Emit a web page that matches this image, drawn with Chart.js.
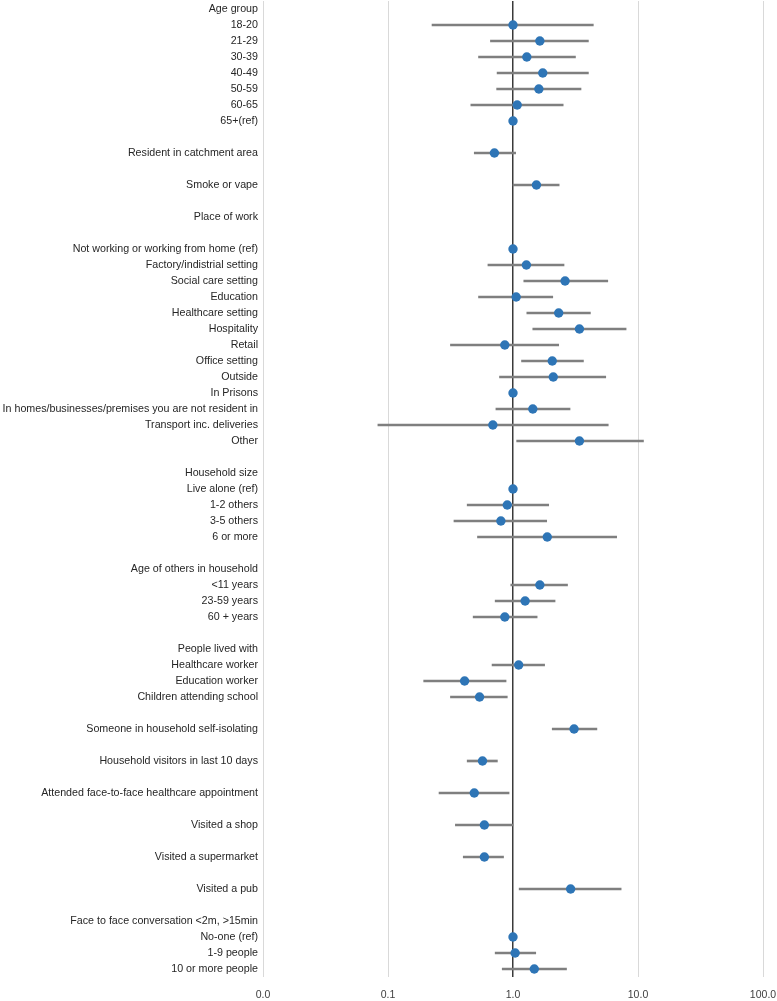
<!DOCTYPE html>
<html>
<head>
<meta charset="utf-8">
<script src="https://cdn.jsdelivr.net/npm/chart.js@4.4.1/dist/chart.umd.min.js"></script>
<style>
  html, body { margin: 0; padding: 0; background: #ffffff; }
  #wrap { width: 777px; height: 1001px; position: relative; }
</style>
</head>
<body>
<div id="wrap"><canvas id="c" width="777" height="1001"></canvas></div>
<script>
const categories = [
  "Age group", "18-20", "21-29", "30-39", "40-49", "50-59", "60-65", "65+(ref)",
  "", "Resident in catchment area", "", "Smoke or vape", "", "Place of work", "",
  "Not working or working from home (ref)", "Factory/indistrial setting", "Social care setting",
  "Education", "Healthcare setting", "Hospitality", "Retail", "Office setting", "Outside",
  "In Prisons", "In homes/businesses/premises you are not resident in",
  "Transport inc. deliveries", "Other", "",
  "Household size", "Live alone (ref)", "1-2 others", "3-5 others", "6 or more", "",
  "Age of others in household", "<11 years", "23-59 years", "60 + years", "",
  "People lived with", "Healthcare worker", "Education worker", "Children attending school", "",
  "Someone in household self-isolating", "", "Household visitors in last 10 days", "",
  "Attended face-to-face healthcare appointment", "", "Visited a shop", "",
  "Visited a supermarket", "", "Visited a pub", "",
  "Face to face conversation <2m, >15min", "No-one (ref)", "1-9 people", "10 or more people"
];

const oddsRatio = [
  null, 1.00, 1.64, 1.29, 1.73, 1.61, 1.08, 1.00,
  null, 0.71, null, 1.54, null, null, null,
  1.00, 1.28, 2.61,
  1.06, 2.32, 3.40, 0.86, 2.06, 2.10,
  1.00, 1.44,
  0.69, 3.40, null,
  null, 1.00, 0.90, 0.80, 1.88, null,
  null, 1.64, 1.25, 0.86, null,
  null, 1.11, 0.41, 0.54, null,
  3.08, null, 0.57, null,
  0.49, null, 0.59, null,
  0.59, null, 2.89, null,
  null, 1.00, 1.04, 1.48
];

const ciLower = [
  null, 0.225, 0.66, 0.53, 0.746, 0.74, 0.46, null,
  null, 0.49, null, 1.00, null, null, null,
  null, 0.63, 1.22,
  0.53, 1.29, 1.44, 0.316, 1.17, 0.78,
  null, 0.73,
  0.083, 1.07, null,
  null, null, 0.43, 0.337, 0.52, null,
  null, 0.96, 0.72, 0.48, null,
  null, 0.68, 0.193, 0.316, null,
  2.06, null, 0.43, null,
  0.256, null, 0.346, null,
  0.40, null, 1.12, null,
  null, null, 0.72, 0.82
];

const ciUpper = [
  null, 4.39, 4.01, 3.16, 4.01, 3.50, 2.52, null,
  null, 1.05, null, 2.34, null, null, null,
  null, 2.56, 5.73,
  2.08, 4.16, 8.03, 2.32, 3.66, 5.52,
  null, 2.86,
  5.78, 11.06, null,
  null, null, 1.93, 1.86, 6.75, null,
  null, 2.73, 2.17, 1.56, null,
  null, 1.79, 0.88, 0.90, null,
  4.69, null, 0.75, null,
  0.93, null, 1.00, null,
  0.84, null, 7.33, null,
  null, null, 1.52, 2.68
];

const xTicks = [0.01, 0.1, 1, 10, 100];

const ciRanges = ciLower.map((lo, i) => (lo === null || ciUpper[i] === null) ? null : [lo, ciUpper[i]]);

const labelFont = { family: "'Liberation Sans', Arial, sans-serif", size: 10.7 };

new Chart(document.getElementById('c'), {
  type: 'bar',
  data: {
    labels: categories,
    datasets: [
      {
        type: 'line',
        label: 'Odds ratio',
        indexAxis: 'y',
        data: oddsRatio,
        showLine: false,
        pointRadius: 4.7,
        pointHoverRadius: 4.7,
        pointBackgroundColor: '#2e75b6',
        pointBorderColor: '#2e75b6',
        pointBorderWidth: 0,
        order: 1
      },
      {
        type: 'bar',
        label: '95% CI',
        data: ciRanges,
        backgroundColor: '#7f7f7f',
        borderWidth: 0,
        barThickness: 2,
        order: 2
      }
    ]
  },
  options: {
    indexAxis: 'y',
    responsive: false,
    animation: false,
    devicePixelRatio: 1,
    layout: { autoPadding: false, padding: { top: 1, right: 14, bottom: 0, left: 0 } },
    plugins: {
      legend: { display: false },
      tooltip: { enabled: false }
    },
    scales: {
      x: {
        type: 'logarithmic',
        min: 0.01,
        max: 100,
        afterBuildTicks: (scale) => { scale.ticks = xTicks.map(v => ({ value: v })); },
        afterFit: (scale) => {
          scale.height = 24;
          scale.paddingLeft = 0;
          scale.paddingRight = 0;
        },
        ticks: {
          autoSkip: false,
          maxRotation: 0,
          padding: 12,
          color: '#404040',
          font: { family: "'Liberation Sans', Arial, sans-serif", size: 10.5 },
          callback: (v) => Number(v).toFixed(1)
        },
        grid: {
          drawTicks: false,
          color: (ctx) => (ctx.tick && ctx.tick.value === 1) ? '#3a3a3a' : '#d9d9d9',
          lineWidth: (ctx) => (ctx.tick && ctx.tick.value === 1) ? 1.5 : 1
        },
        border: { display: false }
      },
      y: {
        type: 'category',
        afterFit: (scale) => {
          scale.width = 263;
          scale.paddingTop = 0;
          scale.paddingBottom = 0;
        },
        ticks: {
          autoSkip: false,
          padding: 5,
          color: '#262626',
          font: labelFont
        },
        grid: { display: false, drawTicks: false },
        border: { display: false }
      }
    }
  }
});
</script>
</body>
</html>
